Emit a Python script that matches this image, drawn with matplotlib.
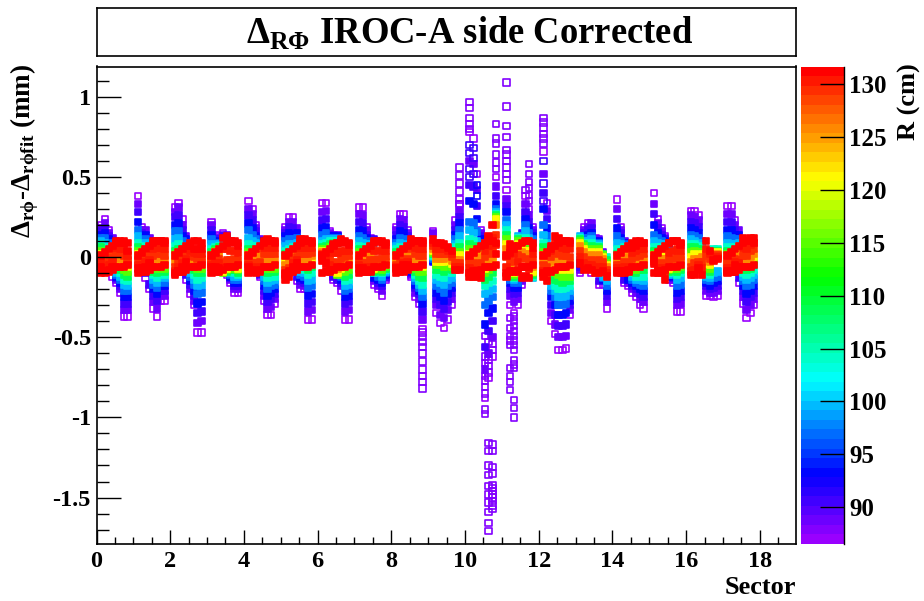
import numpy as np
import matplotlib
matplotlib.use('Agg')
import matplotlib.pyplot as plt
from matplotlib.colors import LinearSegmentedColormap, Normalize
from matplotlib.cm import ScalarMappable
from matplotlib.ticker import MultipleLocator

plt.rcParams['font.family'] = ['Liberation Serif', 'DejaVu Serif']
plt.rcParams['font.weight'] = 'bold'
plt.rcParams['axes.unicode_minus'] = False
plt.rcParams['mathtext.fontset'] = 'custom'
plt.rcParams['mathtext.rm'] = 'Liberation Serif'
plt.rcParams['mathtext.bf'] = 'Liberation Serif:bold'

# pad radius of each value in a column (cm)
r_levels = [87, 88.5, 90.5, 93, 97, 100, 104, 109, 115, 121, 126, 129, 130.5, 131.5]
# column position inside a sector
col_pos = [0.125, 0.228, 0.331, 0.434, 0.537, 0.640, 0.743, 0.846]

# residuals, one row per column, in 0.01 mm
s00 = [[20,18,16,14,12,10,8,6,4,2,0,-2,-4,-6],
       [24,21,18,15,12,9,6,4,2,0,-2,-4,-7,-10],
       [17,15,13,11,9,7,5,4,3,2,1,-2,-5,-8],
       [-12,12,10,9,8,7,6,5,4,3,2,0,-3,-6],
       [-16,-14,-13,-12,-11,-10,-8,-6,-4,-2,0,3,6,10],
       [-22,-20,-18,-16,-14,-12,-10,-8,-6,-4,-1,2,5,9],
       [-37,-33,-29,-25,-21,-17,-14,-11,-8,-5,-2,1,5,9],
       [-37,-33,-29,-25,-21,-18,-15,-12,-9,-6,-4,-2,1,4]]
s01 = [[38,33,28,22,17,13,9,6,4,2,0,-2,-5,-7],
       [19,17,15,13,10,8,6,4,3,2,0,-2,-5,-7],
       [-13,17,-10,14,11,9,7,5,4,3,2,0,-3,-6],
       [-20,12,-17,10,8,6,5,4,3,2,1,0,-2,-4],
       [-32,-28,-24,-20,-17,-14,-11,-9,-6,-4,-2,1,5,10],
       [-37,-32,-27,-23,-19,-16,-13,-10,-7,-4,-1,2,6,10],
       [-27,-24,-21,-18,-15,-12,-10,-8,-5,-3,-1,2,6,10],
       [-27,-24,-21,-18,-16,-13,-11,-9,-7,-5,-2,1,5,10]]
s02 = [[31,28,25,20,16,11,7,4,2,0,-3,-6,-9,-11],
       [34,31,26,21,16,12,8,5,3,1,-1,-3,-6,-9],
       [24,20,17,13,10,7,5,3,2,1,0,-2,-4,-6],
       [-14,13,-11,11,9,7,6,5,4,3,2,1,-1,-3],
       [-23,-20,-17,-15,-12,-10,-8,-6,-4,-3,-1,1,4,7],
       [-30,-27,-24,-21,-17,-14,-11,-8,-6,-4,-2,0,3,5],
       [-47,-41,-35,-29,-23,-18,-14,-10,-7,-5,-3,-1,2,5],
       [-47,-40,-34,-28,-22,-17,-13,-10,-7,-5,-3,-1,2,5]]
s03 = [[22,20,17,14,11,8,5,3,1,0,-2,-3,-5,-6],
       [14,12,11,9,8,7,6,5,4,3,1,-1,-4,-6],
       [13,12,11,10,9,8,7,6,5,4,2,-1,-4,-7],
       [15,14,13,11,9,8,7,6,-10,-9,-7,-3,5,12],
       [-11,14,-10,12,10,8,-9,-9,-8,-7,-5,-2,5,13],
       [-16,-14,-13,-12,-11,-10,-9,-8,-7,-6,-5,-2,4,10],
       [-22,-20,-18,-16,-14,-12,-10,-8,-7,-6,-4,-1,4,9],
       [-22,-20,-18,-16,-14,-12,-11,-10,-8,-7,-5,-2,3,7]]
s04 = [[35,30,26,21,17,12,8,5,3,1,-1,-3,-5,-6],
       [30,27,23,18,14,10,7,4,2,0,-2,-4,-6,-8],
       [20,18,16,13,11,9,7,5,3,1,-1,-4,-7,-10],
       [-12,11,-11,10,8,7,6,5,4,3,1,-3,-6,-9],
       [-27,-24,-21,-18,-15,-12,-9,-7,-5,-3,-1,2,6,10],
       [-36,-32,-28,-24,-20,-16,-13,-10,-7,-5,-2,2,7,11],
       [-36,-31,-26,-22,-18,-15,-12,-9,-7,-4,-2,2,6,10],
       [-29,-26,-23,-20,-17,-14,-12,-9,-7,-5,-2,2,6,10]]
s05 = [[19,17,15,13,10,7,4,2,0,-2,-5,-8,-11,-14],
       [25,22,19,15,11,8,5,3,0,-2,-4,-7,-10,-12],
       [25,22,18,14,11,8,6,4,2,1,0,-2,-4,-6],
       [-15,18,-12,15,12,9,7,6,5,4,2,0,-2,-4],
       [-20,-17,-15,-13,-11,-9,-7,-6,-4,-3,-1,2,6,11],
       [-20,-18,-16,-14,-12,-10,-8,-6,-4,-3,-1,2,6,11],
       [-39,-34,-29,-24,-19,-15,-11,-8,-5,-3,-1,2,6,10],
       [-39,-33,-28,-23,-18,-14,-10,-6,-3,-1,1,3,6,10]]
s06 = [[34,28,23,18,14,10,8,6,5,4,3,2,0,-2],
       [34,29,24,19,15,11,9,7,5,3,2,0,-2,-4],
       [16,15,14,13,12,11,10,8,6,4,2,-1,-5,-8],
       [-14,14,-12,13,12,11,10,9,-9,-8,-6,-3,3,8],
       [-16,14,-14,13,12,11,10,9,-11,-10,-7,-4,3,9],
       [-21,-18,-16,-14,-12,-11,-10,-9,-8,-7,-5,-1,4,11],
       [-39,-34,-29,-25,-21,-18,-15,-12,-9,-6,-3,0,4,9],
       [-39,-33,-28,-24,-20,-17,-14,-11,-8,-5,-2,1,4,8]]
s07 = [[31,27,22,17,13,10,7,5,3,1,-1,-3,-5,-7],
       [31,26,21,16,12,9,6,4,2,0,-2,-4,-6,-7],
       [19,17,14,12,10,8,6,4,2,0,-2,-4,-7,-9],
       [12,11,10,10,9,8,7,6,5,4,1,-2,-6,-9],
       [-17,-15,11,-13,10,9,-10,-9,-8,-7,-5,-2,4,10],
       [-20,-18,-16,-14,-12,-10,-9,-8,-7,-6,-4,-1,4,10],
       [-24,-21,-18,-16,-14,-12,-10,-9,-8,-6,-4,-1,4,9],
       [-14,-13,-12,-11,-10,-9,-8,-7,-6,-5,-3,0,4,8]]
s08 = [[19,17,14,11,9,7,5,3,1,-1,-3,-5,-6,-7],
       [27,24,20,16,12,9,6,4,2,0,-2,-4,-6,-7],
       [27,23,19,15,11,8,5,3,1,0,-1,-2,-4,-5],
       [17,15,13,11,9,7,5,4,3,2,1,-1,-3,-5],
       [-12,-11,-10,-9,-8,-7,-6,-4,-2,0,2,5,8,11],
       [-25,-22,-19,-17,-15,-13,-11,-9,-7,-5,-2,2,6,10],
       [-29,-26,-23,-21,-19,-17,-15,-12,-9,-6,-3,1,5,10],
       [-45,-39,-34,-29,-25,-21,-17,-13,-9,-6,-3,1,5,10]]
s09 = [[16,15,-3,-2,-1,0,1,2,3,4,5,7,9,11],
       [-35,-30,-26,-22,-18,-14,-11,-8,-5,-3,-1,2,5,9],
       [-41,-36,-30,-25,-20,-16,-12,-8,-5,-3,-1,2,5,9],
       [-44,-38,-32,-27,-22,-17,-13,-9,-6,-3,-1,2,5,8],
       [-39,-33,-28,-23,-18,-14,-10,-7,-4,-2,0,2,4,6],
       [-30,-26,-22,-19,-16,-13,-10,-8,-6,-4,-2,0,2,4],
       [23,20,17,14,11,8,6,4,2,0,-2,-4,-6,-8],
       [33,29,25,21,17,13,9,6,3,1,-2,-4,-6,-8]]
s10 = [[78,60,45,35,22,17,11,8,5,2,0,-3,-7,-12],
       [74,58,44,33,21,15,10,7,4,2,-1,-4,-8,-12],
       [52,42,32,24,16,10,6,3,1,0,-2,-5,-9,-12],
       [17,15,13,11,9,7,5,3,2,1,0,-4,-9,-13],
       [-88,-70,-56,-42,-30,-23,-18,-14,-10,-7,-4,0,4,8],
       [-75,-60,-46,-35,-27,-21,-16,-12,-8,-5,-2,2,7,13],
       [-62,-50,-40,-32,-25,-20,-15,-10,-6,-3,0,5,12,20],
       [50,44,38,33,30,28,27,26,25,24,20,14,8,2]]
s11 = [[42,36,32,28,23,20,17,14,11,8,5,0,-6,-12],
       [-30,-24,-20,-16,-14,-12,-11,-10,-9,-8,-6,-2,3,8],
       [-35,-28,-23,-19,-16,-14,-13,-12,-11,-10,-8,-3,2,7],
       [-30,-26,-22,-19,-16,13,12,11,10,8,5,1,-3,-9],
       [-17,-15,15,13,11,9,8,7,6,5,3,0,-6,-13],
       [38,33,28,24,20,16,12,8,6,4,2,-1,-6,-12],
       [30,26,22,18,15,12,10,8,6,4,2,-2,-7,-13],
       [19,17,15,13,11,-13,-12,-11,-10,-9,-6,-2,2,6]]
s12 = [[66,52,40,30,20,14,9,6,3,1,-2,-5,-9,-12],
       [34,29,24,18,13,9,6,3,1,0,-2,-6,-11,-15],
       [-40,-35,-30,-25,-21,-18,-15,-12,-9,-6,-3,0,4,7],
       [-48,-42,-36,-30,-25,-21,-18,-14,-10,-6,-2,3,8,13],
       [-58,-50,-43,-36,-30,-25,-20,-15,-11,-7,-3,2,7,12],
       [-58,-50,-43,-36,-30,-25,-20,-16,-12,-8,-4,1,6,10],
       [-57,-49,-42,-35,-29,-24,-19,-15,-11,-7,-3,1,5,10],
       [-36,-33,-30,-27,-24,-21,-18,-15,-12,-8,-4,0,5,10]]
s13 = [[-10,-8,-6,-4,-2,13,12,11,10,9,7,4,0,-4],
       [19,17,15,13,12,10,9,8,7,5,3,0,-4,-8],
       [21,19,17,14,12,10,8,6,4,2,0,-3,-5,-7],
       [-10,21,18,15,13,11,9,7,5,3,1,-2,-5,-8],
       [12,11,10,9,8,7,6,5,4,2,0,-3,-7,-10],
       [-17,11,-15,10,9,8,7,6,5,3,1,-2,-6,-10],
       [-17,3,-15,-14,-13,-12,-10,2,1,0,-1,-3,-6,-9],
       [-32,-28,-24,-21,-18,-15,0,-2,-4,-5,-6,-8,-10,-12]]
s14 = [[36,30,24,18,13,9,5,2,0,-1,-3,-5,-7,-9],
       [19,17,15,12,10,8,5,3,1,-1,-3,-5,-8,-10],
       [-16,10,-14,9,8,7,6,5,4,2,0,-3,-6,-10],
       [-18,-16,8,-14,7,6,5,4,3,1,-1,-4,-7,-9],
       [-22,-20,-18,-16,-14,-12,-10,-9,-8,-6,-4,-1,3,6],
       [-25,-22,-20,-18,-16,-14,-12,-10,-8,-6,-3,0,4,7],
       [-30,-26,-23,-20,-17,-14,-11,-8,-6,-4,-2,1,5,9],
       [-32,-28,-25,-21,-18,-15,-12,-8,-5,-3,-1,2,5,9]]
s15 = [[40,33,27,20,14,10,6,4,2,1,0,-1,-3,-4],
       [24,21,18,15,12,9,6,4,2,0,-2,-5,-8,-10],
       [18,16,14,12,10,8,6,4,3,1,-1,-4,-7,-10],
       [13,12,11,10,9,8,7,5,3,1,-1,-5,-9,-14],
       [-14,9,-12,8,7,-11,-10,-9,-8,-7,-5,-2,3,9],
       [-16,-14,-13,-12,-11,-10,-9,-8,-7,-6,-4,-1,4,10],
       [-34,-30,-26,-22,-18,-14,-11,-9,-7,-5,-3,0,5,10],
       [-34,-29,-25,-21,-17,-13,-10,-8,-6,-4,-2,0,4,8]]
s16 = [[29,26,22,18,14,11,8,6,3,0,-3,-6,-9,-11],
       [29,25,21,17,13,10,8,6,4,2,-1,-4,-8,-11],
       [26,23,19,15,12,9,7,5,3,1,-1,-3,-5,-7],
       [10,9,8,7,7,6,5,4,3,2,0,-3,-7,-11],
       [-24,-21,-18,-16,-14,-12,-10,-8,-6,-4,-2,1,5,10],
       [-24,-22,-20,-18,-15,-13,-11,-9,-7,-5,-3,-1,2,4],
       [-25,-22,-19,-16,-13,-10,5,4,3,2,1,0,-1,-2],
       [-24,-21,-18,-15,-12,-9,5,4,3,3,2,1,0,-1]]
s17 = [[32,27,22,17,13,9,6,4,2,0,-2,-4,-7,-9],
       [32,27,22,17,12,8,5,3,1,-1,-3,-5,-7,-9],
       [23,20,17,14,11,8,6,4,2,1,0,-1,-3,-5],
       [-16,17,-13,14,11,9,7,5,3,2,0,-2,-4,-6],
       [-29,-25,-21,-18,-15,-12,-10,-8,-6,-4,-2,1,6,12],
       [-38,-33,-28,-23,-18,-14,-11,-8,-6,-4,-2,1,5,10],
       [-35,-30,-25,-21,-17,-13,-10,-7,-5,-3,0,4,8,12],
       [-30,-26,-22,-18,-14,-11,-8,-5,-2,0,2,5,9,12]]
sectors = [s00, s01, s02, s03, s04, s05, s06, s07, s08,
           s09, s10, s11, s12, s13, s14, s15, s16, s17]

# the points that stick out of the columns (low R tails)
tail_sector = [8, 9, 10, 10, 10, 10, 10, 10, 10, 10, 11, 11, 11, 11, 11, 12, 12]
tail_col = [7, 7, 0, 0, 1, 4, 5, 6, 7, 2, 0, 1, 2, 5, 6, 0, 0]
tail_r = [88, 88, 88, 91, 91, 88, 88, 88, 88, 92, 88, 88, 88, 88, 88, 88, 91]
tail_y = [[-47,-50,-53,-56,-60,-65,-70,-74,-78,-82],
          [56,51,46,41,36,33],
          [97,93,87,83,80],
          [70,65,55,50],
          [68,62,52],
          [-98,-95,-85,-81,-77,-74,-66,-62,-49],
          [-171,-166,-159,-153,-148,-143,-136,-130,-121,-116,-72,-68,-64,-53],
          [-157,-155,-152,-150,-148,-146,-144,-142,-135,-131,-121,-117,-58,-54],
          [83,74,71,64,59,55],
          [45,38],
          [109,94,82,75,67,64,60,56,52,48],
          [-83,-78,-74,-69,-55,-52,-49,-44,-38],
          [-100,-94,-89,-69,-67,-64,-58,-55,-52,-49,-46,-43,-40,-37],
          [42],
          [58,52,47,43,39,35],
          [87,84,81,77,74,71],
          [60,46,35]]

# lower and upper edge of the red band, one value per column, in 0.01 mm
band_lo = [-10, -9, -9, -8, -6, -6, -6, -5]
band_hi = [1, 3, 5, 7, 9, 10, 10, 9]
band_levels = [131, 131.2]
# these sectors have no straight band in the picture
no_band = [9, 13, 16]

title_text = r'$\Delta_{\mathbf{R\Phi}}$ IROC-A side Corrected'
ylabel_text = r'$\Delta_{\mathbf{r\phi}}$-$\Delta_{\mathbf{r\phi fit}}$ (mm)'
ytick_vals = [-1.5, -1, -0.5, 0, 0.5, 1]
ytick_labels = ['-1.5', '-1', '-0.5', '0', '0.5', '1']
xtick_vals = list(range(0, 19, 2))
cbar_ticks = [90, 95, 100, 105, 110, 115, 120, 125, 130]

# ROOT style rainbow, 50 steps
rainbow = LinearSegmentedColormap.from_list(
    'root_rainbow',
    [(0.0, '#9900ff'), (0.14, '#0000ff'), (0.34, '#00ffff'),
     (0.56, '#00ff00'), (0.77, '#ffff00'), (1.0, '#ff0000')], N=50)
norm = Normalize(86.5, 131.7)

# points inside a dense column read as solid, the ends and tails stay open
xs, ys, rs, solid = [], [], [], []
for isec, sec in enumerate(sectors):
    for icol, row in enumerate(sec):
        for ir, (r, y) in enumerate(zip(r_levels, row)):
            xs.append(isec + col_pos[icol])
            ys.append(y / 100)
            rs.append(r)
            solid.append(ir > 0)
        if isec in no_band:
            continue
        for r, y in zip(band_levels, [band_lo[icol], band_hi[icol]]):
            xs.append(isec + col_pos[icol])
            ys.append(y / 100)
            rs.append(r)
            solid.append(True)
for isec, icol, r, vals in zip(tail_sector, tail_col, tail_r, tail_y):
    for y in vals:
        xs.append(isec + col_pos[icol])
        ys.append(y / 100)
        rs.append(r)
        solid.append(False)
xs, ys, rs, solid = np.array(xs), np.array(ys), np.array(rs), np.array(solid)
order = np.argsort(rs, kind='stable')
edge_colors = rainbow(norm(rs[order]))
face_colors = edge_colors.copy()
face_colors[~solid[order], 3] = 0

W, H = 924, 601
fig = plt.figure(figsize=(W / 100, H / 100), dpi=100)


def box(x0, y0, x1, y1):
    return [x0 / W, 1 - y1 / H, (x1 - x0) / W, (y1 - y0) / H]


ax = fig.add_axes(box(96.5, 66.5, 796, 544))
ax.scatter(xs[order], ys[order], s=21, marker='s', facecolors=face_colors,
           edgecolors=edge_colors, linewidths=1.2)
ax.set_xlim(0, 18.98)
ax.set_ylim(-1.79, 1.19)
ax.set_xticks(xtick_vals)
ax.set_yticks(ytick_vals)
ax.set_yticklabels(ytick_labels)
ax.xaxis.set_minor_locator(MultipleLocator(0.5))
ax.yaxis.set_minor_locator(MultipleLocator(0.1))
ax.tick_params(axis='x', which='major', direction='in', length=10, width=1, labelsize=17.5, pad=5)
ax.tick_params(axis='x', which='minor', direction='in', length=5, width=1)
ax.tick_params(axis='y', which='major', direction='in', length=17, width=1, labelsize=17.5, pad=4)
ax.tick_params(axis='y', which='minor', direction='in', length=8.5, width=1)
for sp in ax.spines.values():
    sp.set_linewidth(1.2)

# title box
tax = fig.add_axes(box(96.5, 8, 796, 56))
tax.set_xticks([])
tax.set_yticks([])
for sp in tax.spines.values():
    sp.set_linewidth(1.2)
tax.text(0.534, 0.47, title_text, transform=tax.transAxes, ha='center', va='center',
         fontsize=26.4, fontweight='bold')

# colour bar
cax = fig.add_axes(box(800.5, 66.5, 843.5, 544))
cb = fig.colorbar(ScalarMappable(norm=norm, cmap=rainbow), cax=cax, ticks=cbar_ticks)
cb.outline.set_visible(False)
cax.spines['right'].set_visible(True)
cax.spines['right'].set_linewidth(1.0)
cax.minorticks_off()
cax.tick_params(axis='y', direction='in', length=17, width=1, labelsize=18, pad=4)

fig.text(25 / W, 1 - 64 / H, ylabel_text, rotation=90, ha='center', va='top', fontsize=19.5, fontweight='bold')
fig.text(909 / W, 1 - 63 / H, 'R (cm)', rotation=90, ha='center', va='top', fontsize=19, fontweight='bold')
fig.text(796 / W, 1 - 588 / H, 'Sector', ha='right', va='center', fontsize=19, fontweight='bold')

fig.savefig('out.png', dpi=100)
